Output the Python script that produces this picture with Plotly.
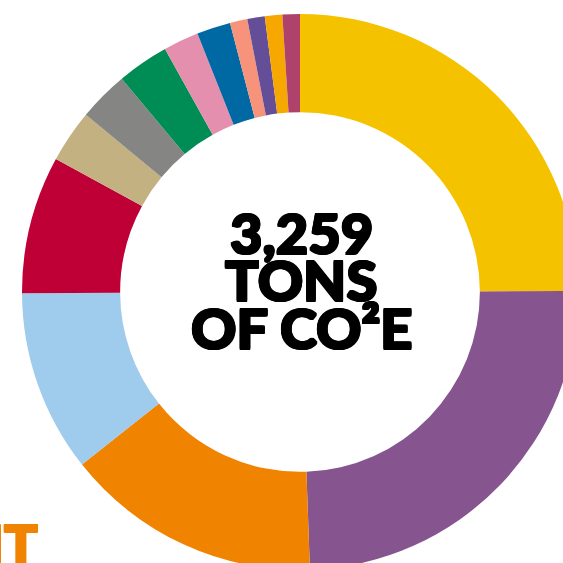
import plotly.graph_objects as go

# Emission categories (tons of CO2e), clockwise from 12 o'clock
categories = ["Category A", "Category B", "Category C", "Category D", "Category E",
              "Category F", "Category G", "Category H", "Category I", "Category J",
              "Category K", "Category L", "Category M", "Category N"]
values = [813, 798, 486, 345, 261, 100, 95, 98, 67, 64, 33, 33, 33, 33]
colors = ["#F5C200", "#86558F", "#F08300", "#9FCBEC", "#BE0037", "#C3B181",
          "#858583", "#008C55", "#E48FAE", "#0068A3", "#F7937A", "#644E97",
          "#F6A800", "#AE426B"]

total_label = "3,259"
center_lines = [total_label, "TONS", "OF CO²E"]

W, H = 600, 600

fig = go.Figure(go.Pie(
    labels=categories,
    values=values,
    marker=dict(colors=colors, line=dict(width=0)),
    hole=0.647,
    sort=False,
    direction="clockwise",
    rotation=0,
    textinfo="none",
    hoverinfo="label+value",
    domain=dict(x=[22 / W, 578 / W], y=[1 - 570 / H, 1 - 14 / H]),
))

def thick(c):
    return ", ".join(f"{dx}px {dy}px 0 {c}" for dx, dy in
                     [(1, 0), (-1, 0), (0, 1), (0, -1), (1, 1), (-1, -1), (1, -1), (-1, 1)])

font_heavy = dict(family="Lato", size=56, color="#000000", weight=900, shadow=thick("#000000"))
line_y = [232, 279, 327]
for txt, yy in zip(center_lines, line_y):
    fig.add_annotation(x=301 / W, y=1 - yy / H, xref="paper", yref="paper",
                       text=txt, showarrow=False, font=font_heavy,
                       xanchor="center", yanchor="middle")

fig.add_annotation(x=40 / W, y=1 - 508 / H, xref="paper", yref="paper",
                   text="IT", showarrow=False,
                   font=dict(family="Lato", size=56, color="#F08300", weight=900,
                             shadow=thick("#F08300")),
                   xanchor="right", yanchor="top")

fig.update_layout(
    width=W, height=H, autosize=False,
    margin=dict(l=0, r=0, t=0, b=0),
    paper_bgcolor="white", plot_bgcolor="white",
    showlegend=False,
)

fig.write_html("out.html", config={"displayModeBar": False},
               post_script="document.body.style.margin='0';document.body.style.overflow='hidden';")
